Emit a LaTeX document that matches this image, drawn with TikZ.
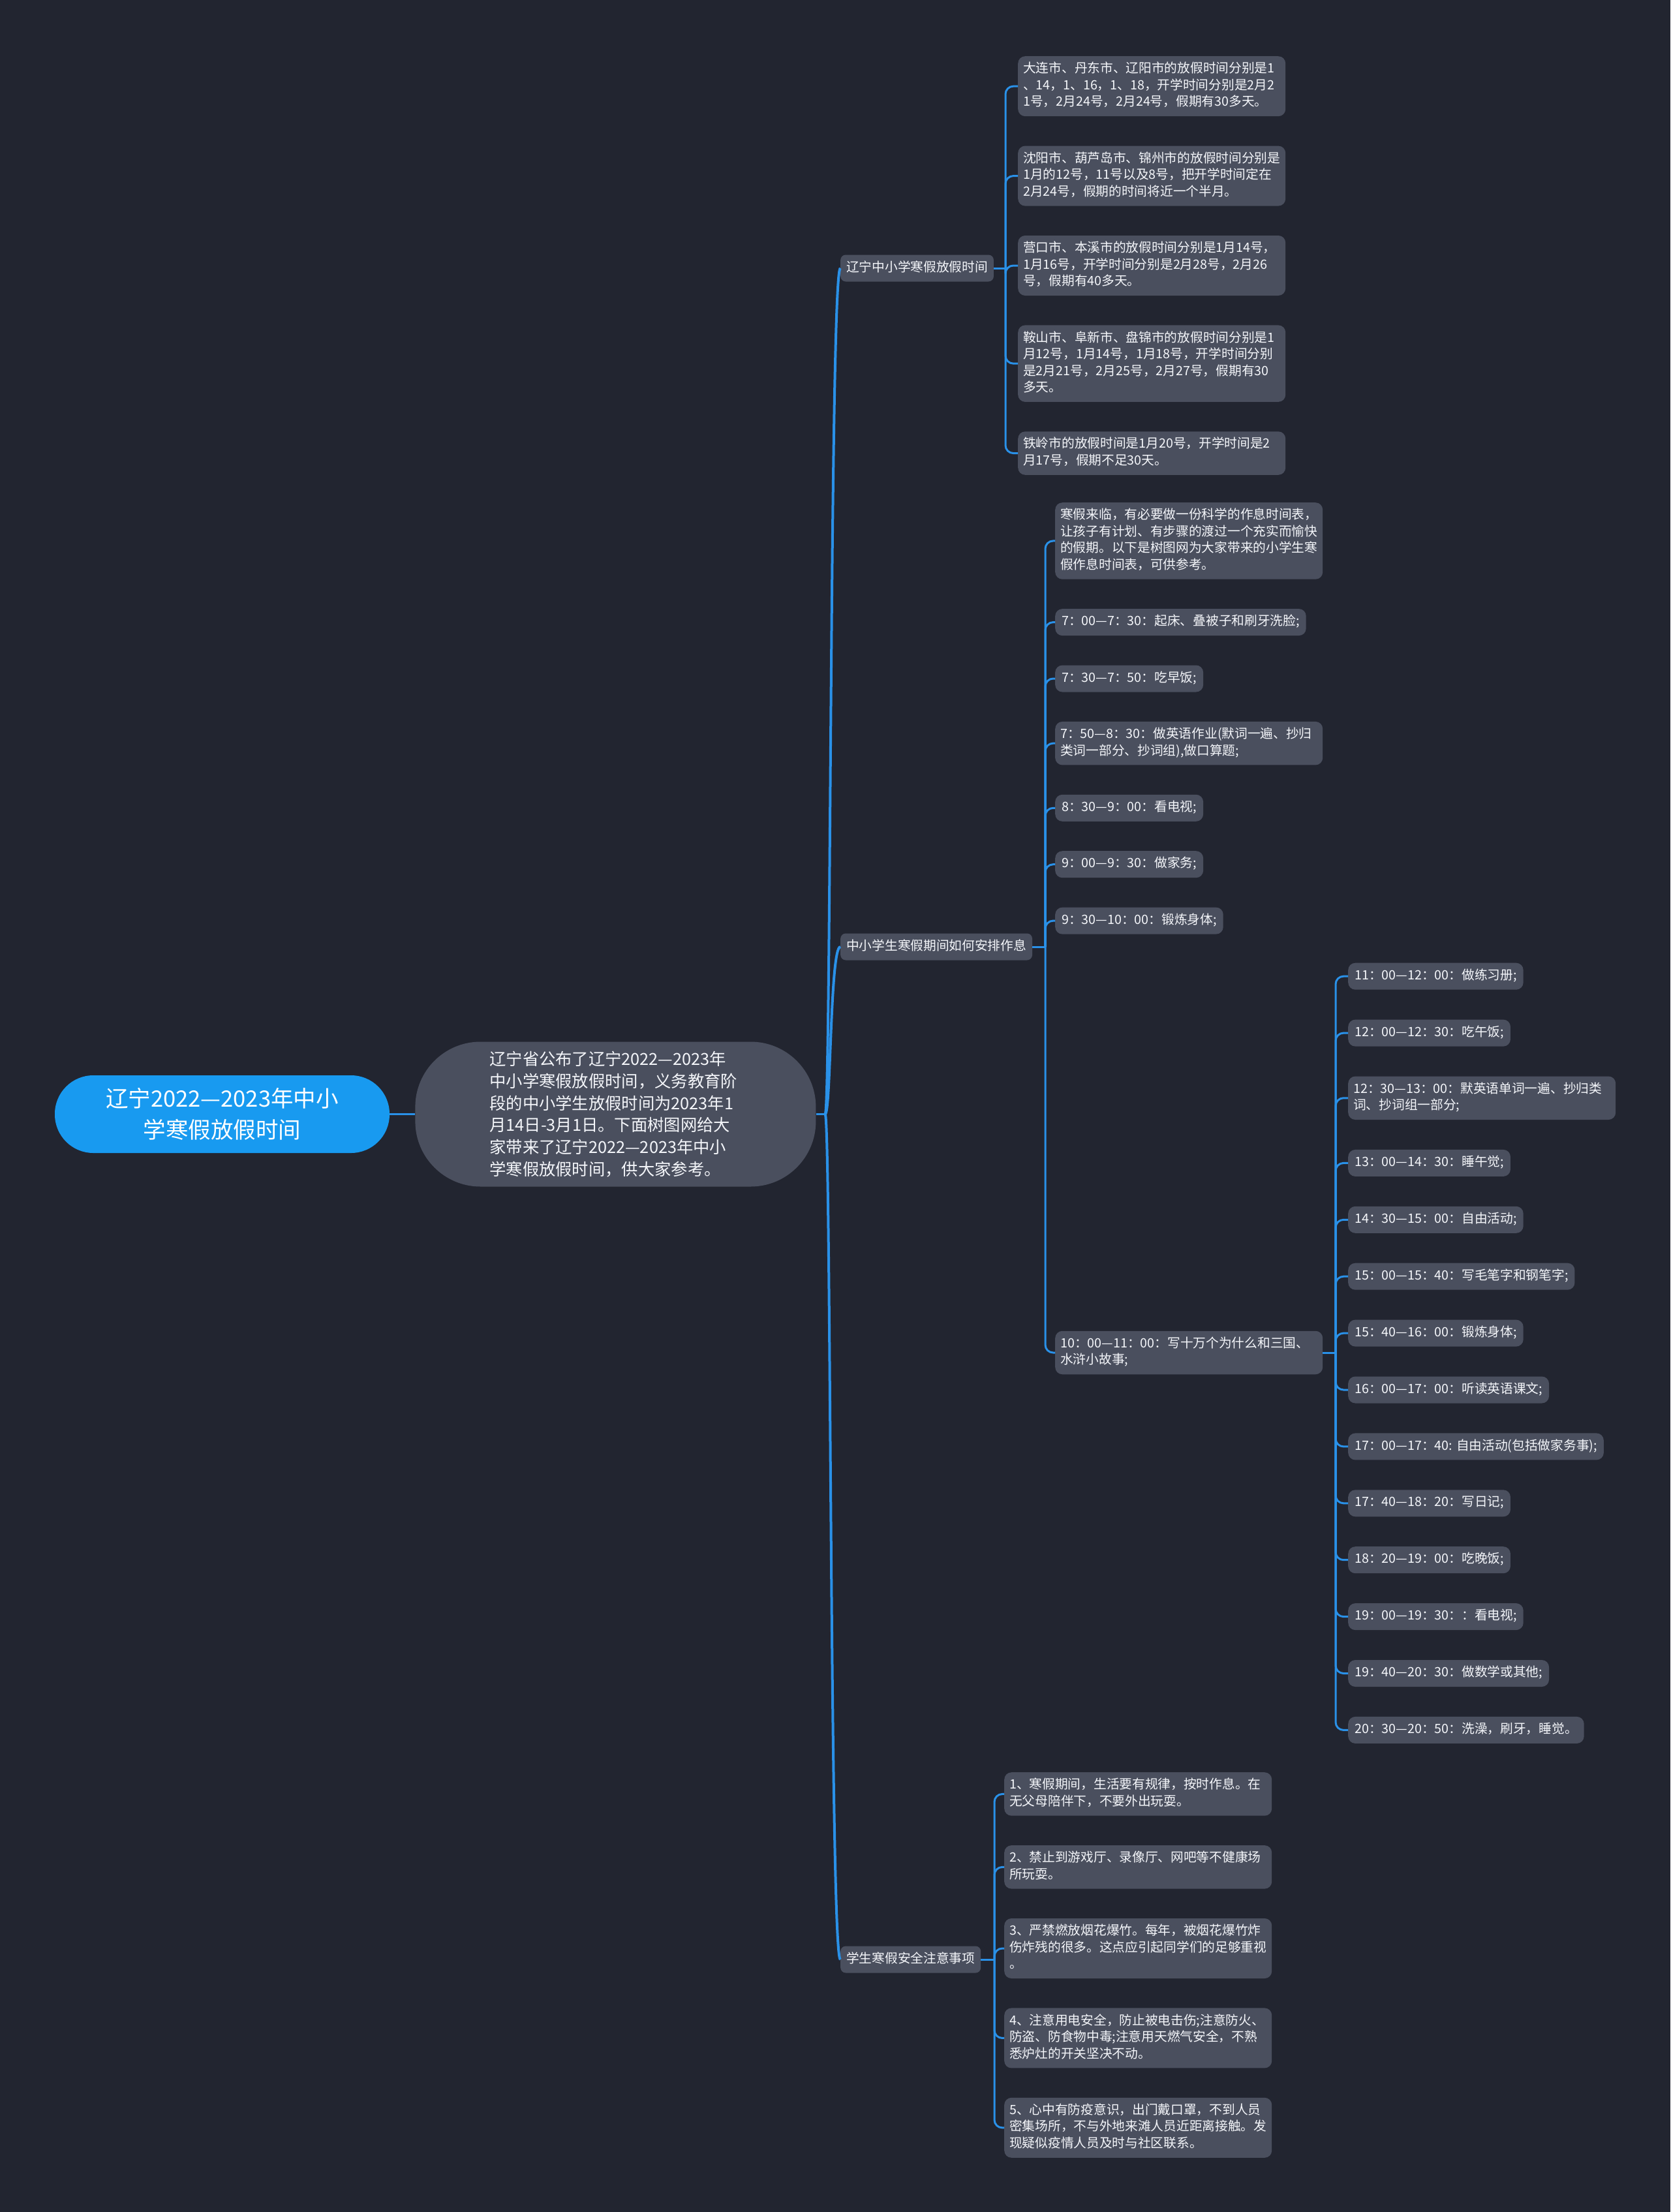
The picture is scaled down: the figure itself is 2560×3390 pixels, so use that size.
\documentclass[tikz,border=0pt]{standalone}
\usepackage{fontspec}
\setmainfont{Noto Sans CJK SC}
\usetikzlibrary{positioning,calc}
\definecolor{bg}{RGB}{34,37,48}
\definecolor{nc}{RGB}{74,79,94}
\definecolor{bc}{RGB}{24,154,240}
\definecolor{lc}{RGB}{42,145,232}
\definecolor{tc}{RGB}{244,246,250}
\tikzset{tp/.style={fill=bc,text=white,rounded corners=59pt,minimum width=513pt,minimum height=119pt,align=center,font=\fontsize{34.5}{48}\selectfont},
 sm/.style={fill=nc,text=tc,rounded corners=100pt,minimum width=614pt,minimum height=222pt,text width=386pt,align=left,font=\fontsize{25.3}{33.7}\selectfont},
 k/.style={fill=nc,text=tc,rounded corners=8pt,anchor=west,inner xsep=9pt,inner ysep=7.75pt,font=\fontsize{19.7}{25.5}\selectfont,execute at begin node=\strut,execute at end node=\strut},
 lf/.style={k,rounded corners=11pt,anchor=north west,inner xsep=10pt},
 lw/.style={lf,text width=394pt,inner xsep=8pt,align=left},
 lk/.style={draw=lc,line width=3pt},
 bk/.style={lk,rounded corners=12pt}}

\begin{document}
\begin{tikzpicture}[x=1pt,y=-1pt]
\fill[bg] (0,0) rectangle (2560,3390);
\node[tp] (rt) at (340.5,1707.5) {辽宁2022—2023年中小\\学寒假放假时间};
\node[sm,right=39pt of rt] (sm) {辽宁省公布了辽宁2022—2023年\\中小学寒假放假时间，义务教育阶\\段的中小学生放假时间为2023年1\\月14日-3月1日。下面树图网给大\\家带来了辽宁2022—2023年中小\\学寒假放假时间，供大家参考。};
\coordinate (jt) at ($(sm.east)+(14,0)$);
\node[k] (ka) at (1288,411) {辽宁中小学寒假放假时间};
\node[k] (kb) at (1288,1451) {中小学生寒假期间如何安排作息};
\node[k] (kc) at (1288,3003) {学生寒假安全注意事项};
\coordinate (ja) at (1541,411);
\coordinate (jb) at (1602,1451);
\coordinate (jc) at (1524,3003);
\node[lw] (a1) at (1560,86) {大连市、丹东市、辽阳市的放假时间分别是1\\、14，1、16，1、18，开学时间分别是2月2\\1号，2月24号，2月24号，假期有30多天。};
\node[lw,below=45pt of a1.south west,anchor=north west] (a2) {沈阳市、葫芦岛市、锦州市的放假时间分别是\\1月的12号，11号以及8号，把开学时间定在\\2月24号，假期的时间将近一个半月。};
\node[lw,below=45pt of a2.south west,anchor=north west] (a3) {营口市、本溪市的放假时间分别是1月14号，\\1月16号，开学时间分别是2月28号，2月26\\号，假期有40多天。};
\node[lw,below=45pt of a3.south west,anchor=north west] (a4) {鞍山市、阜新市、盘锦市的放假时间分别是1\\月12号，1月14号，1月18号，开学时间分别\\是2月21号，2月25号，2月27号，假期有30\\多天。};
\node[lw,below=45pt of a4.south west,anchor=north west] (a5) {铁岭市的放假时间是1月20号，开学时间是2\\月17号，假期不足30天。};
\node[lw] (b1) at (1617,770) {寒假来临，有必要做一份科学的作息时间表，\\让孩子有计划、有步骤的渡过一个充实而愉快\\的假期。以下是树图网为大家带来的小学生寒\\假作息时间表，可供参考。};
\node[lf,below=45pt of b1.south west,anchor=north west] (b2) {7：00—7：30：起床、叠被子和刷牙洗脸;};
\node[lf,below=45pt of b2.south west,anchor=north west] (b3) {7：30—7：50：吃早饭;};
\node[lw,below=45pt of b3.south west,anchor=north west] (b4) {7：50—8：30：做英语作业(默词一遍、抄归\\类词一部分、抄词组),做口算题;};
\node[lf,below=45pt of b4.south west,anchor=north west] (b5) {8：30—9：00：看电视;};
\node[lf,below=45pt of b5.south west,anchor=north west] (b6) {9：00—9：30：做家务;};
\node[lf,below=45pt of b6.south west,anchor=north west] (b7) {9：30—10：00：锻炼身体;};
\node[lw,anchor=west] (b8) at (1617,2073) {10：00—11：00：写十万个为什么和三国、\\水浒小故事;};
\coordinate (jd) at (2047,2073);
\node[lf] (c1) at (2066,1475.5) {11：00—12：00：做练习册;};
\node[lf,below=45.5pt of c1.south west,anchor=north west] (c2) {12：00—12：30：吃午饭;};
\node[lw,below=45.5pt of c2.south west,anchor=north west] (c3) {12：30—13：00：默英语单词一遍、抄归类\\词、抄词组一部分;};
\node[lf,below=45.5pt of c3.south west,anchor=north west] (c4) {13：00—14：30：睡午觉;};
\node[lf,below=45.5pt of c4.south west,anchor=north west] (c5) {14：30—15：00：自由活动;};
\node[lf,below=45.5pt of c5.south west,anchor=north west] (c6) {15：00—15：40：写毛笔字和钢笔字;};
\node[lf,below=45.5pt of c6.south west,anchor=north west] (c7) {15：40—16：00：锻炼身体;};
\node[lf,below=45.5pt of c7.south west,anchor=north west] (c8) {16：00—17：00：听读英语课文;};
\node[lf,below=45.5pt of c8.south west,anchor=north west] (c9) {17：00—17：40: 自由活动(包括做家务事);};
\node[lf,below=45.5pt of c9.south west,anchor=north west] (c10) {17：40—18：20：写日记;};
\node[lf,below=45.5pt of c10.south west,anchor=north west] (c11) {18：20—19：00：吃晚饭;};
\node[lf,below=45.5pt of c11.south west,anchor=north west] (c12) {19：00—19：30：：看电视;};
\node[lf,below=45.5pt of c12.south west,anchor=north west] (c13) {19：40—20：30：做数学或其他;};
\node[lf,below=45.5pt of c13.south west,anchor=north west] (c14) {20：30—20：50：洗澡，刷牙，睡觉。};
\node[lw] (d1) at (1539,2716) {1、寒假期间，生活要有规律，按时作息。在\\无父母陪伴下，不要外出玩耍。};
\node[lw,below=45pt of d1.south west,anchor=north west] (d2) {2、禁止到游戏厅、录像厅、网吧等不健康场\\所玩耍。};
\node[lw,below=45pt of d2.south west,anchor=north west] (d3) {3、严禁燃放烟花爆竹。每年，被烟花爆竹炸\\伤炸残的很多。这点应引起同学们的足够重视\\。};
\node[lw,below=45pt of d3.south west,anchor=north west] (d4) {4、注意用电安全，防止被电击伤;注意防火、\\防盗、防食物中毒;注意用天燃气安全，不熟\\悉炉灶的开关坚决不动。};
\node[lw,below=45pt of d4.south west,anchor=north west] (d5) {5、心中有防疫意识，出门戴口罩，不到人员\\密集场所，不与外地来滩人员近距离接触。发\\现疑似疫情人员及时与社区联系。};
\draw[lk] (rt) -- (sm);
\draw[lk] (sm) -- (jt);
\foreach \v in {ka,kb,kc}{\draw[lk,line width=4pt] (jt) .. controls +(9,0) and +(-16,0) .. (\v.west);}
\foreach \u/\v in {ka/ja,kb/jb,kc/jc,b8/jd}{\draw[lk] (\u) -- (\v);}
\foreach \i in {1,...,5}{\draw[bk] (ja) |- (a\i.west); \draw[bk] (jc) |- (d\i.west);}
\foreach \i in {1,...,8}{\draw[bk] (jb) |- (b\i.west);}
\foreach \i in {1,...,14}{\draw[bk] (jd) |- (c\i.west);}
\end{tikzpicture}
\end{document}
